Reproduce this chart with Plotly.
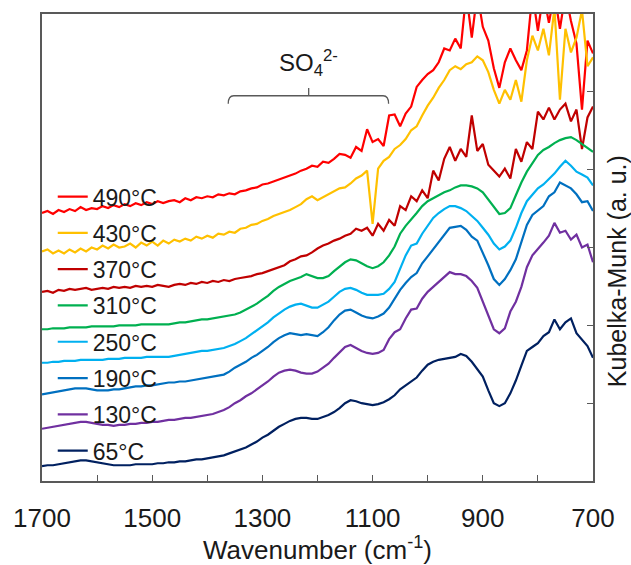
import plotly.graph_objects as go

# Wavenumber grid (cm^-1), 10 cm^-1 steps from 1700 down to 700
wavenumber = list(range(1700, 690, -10))

# Kubelka-Munk signal (arbitrary units, stacked spectra)
km_490 = [272, 274, 271, 275, 273, 276, 274, 278, 275, 277,
          276, 279, 277, 280, 278, 281, 279, 282, 280, 283,
          281, 284, 282, 284, 285, 283, 287, 285, 288, 287,
          289, 288, 291, 290, 292, 291, 294, 295, 297, 298,
          301, 302, 304, 306, 308, 310, 312, 315, 317, 320,
          319, 324, 323, 327, 332, 331, 328, 339, 335, 357,
          344, 347, 340, 371, 372, 360, 373, 380, 400, 407,
          413, 417, 425, 439, 437, 449, 439, 495, 450, 495,
          461, 447, 419, 399, 425, 439, 427, 417, 437, 495,
          457, 495, 465, 495, 459, 495, 467, 444, 377, 447,
          434]
km_430 = [233, 235, 231, 234, 231, 235, 232, 236, 233, 237,
          235, 239, 236, 240, 237, 238, 241, 237, 242, 239,
          243, 239, 244, 241, 245, 243, 246, 244, 248, 246,
          249, 247, 251, 250, 253, 252, 256, 257, 260, 261,
          264, 266, 269, 271, 273, 275, 278, 281, 286, 289,
          285, 288, 291, 294, 297, 298, 302, 307, 310, 315,
          261, 317, 325, 329, 337, 341, 347, 356, 360, 371,
          381, 389, 399, 407, 417, 421, 418, 423, 425, 431,
          427, 415, 397, 383, 397, 387, 407, 385, 427, 452,
          437, 459, 432, 480, 387, 459, 435, 450, 478, 421,
          430]
km_370 = [192, 193, 191, 194, 193, 195, 194, 195, 196, 194,
          195, 196, 195, 197, 196, 197, 196, 198, 197, 198,
          197, 199, 198, 197, 199, 200, 199, 201, 200, 202,
          201, 203, 202, 204, 203, 205, 206, 207, 208, 210,
          211, 213, 215, 217, 219, 223, 225, 228, 229, 232,
          236, 239, 241, 244, 246, 249, 251, 256, 254, 257,
          249, 261, 254, 265, 259, 279, 275, 289, 284, 295,
          287, 315, 305, 327, 339, 325, 337, 329, 371, 335,
          342, 321, 315, 309, 317, 307, 337, 324, 344, 337,
          375, 367, 379, 367, 377, 383, 365, 377, 337, 369,
          380]
km_310 = [154, 154, 155, 155, 155, 156, 156, 156, 156, 157,
          157, 157, 157, 157, 158, 158, 158, 158, 159, 159,
          159, 159, 159, 159, 160, 161, 161, 162, 163, 164,
          164, 165, 166, 167, 168, 169, 171, 174, 177, 180,
          184, 188, 193, 197, 200, 203, 205, 207, 210, 208,
          206, 206, 208, 213, 218, 222, 225, 224, 221, 218,
          216, 218, 222, 229, 238, 251, 259, 265, 272, 279,
          284, 287, 290, 293, 295, 298, 300, 300, 299, 297,
          293, 286, 279, 271, 272, 277, 290, 303, 314, 323,
          331, 336, 339, 343, 346, 348, 349, 346, 342, 338,
          334]
km_250 = [120, 120, 121, 121, 122, 122, 122, 123, 123, 123,
          123, 123, 124, 124, 124, 125, 125, 125, 125, 126,
          126, 126, 126, 126, 127, 128, 129, 130, 131, 132,
          132, 133, 134, 135, 137, 139, 142, 145, 149, 153,
          157, 161, 166, 170, 174, 177, 179, 180, 178, 176,
          176, 179, 182, 187, 192, 195, 196, 194, 191, 189,
          189, 189, 190, 195, 202, 215, 229, 239, 241, 251,
          259, 267, 272, 276, 279, 279, 277, 274, 269, 264,
          257, 250, 241, 235, 238, 244, 257, 272, 284, 291,
          297, 301, 306, 312, 319, 325, 320, 314, 311, 308,
          300]
km_190 = [88, 89, 90, 91, 92, 93, 94, 94, 94, 93,
          92, 92, 92, 93, 93, 94, 95, 96, 96, 97,
          97, 98, 99, 100, 100, 101, 101, 102, 103, 104,
          105, 106, 107, 108, 111, 115, 118, 121, 125, 128,
          132, 136, 141, 145, 148, 150, 149, 148, 149, 148,
          147, 151, 156, 163, 169, 173, 174, 171, 168, 166,
          165, 167, 170, 176, 185, 194, 201, 207, 211, 221,
          228, 235, 242, 249, 257, 258, 259, 255, 248, 244,
          232, 219, 205, 199, 205, 214, 225, 242, 260, 270,
          275, 279, 289, 293, 303, 300, 297, 291, 283, 284,
          274]
km_130 = [53, 54, 55, 56, 57, 58, 59, 60, 60, 59,
          58, 57, 57, 56, 57, 57, 58, 58, 59, 59,
          60, 60, 61, 62, 62, 63, 64, 64, 65, 66,
          67, 68, 70, 72, 75, 79, 82, 86, 89, 93,
          97, 101, 106, 110, 112, 113, 112, 110, 109, 109,
          111, 115, 119, 125, 131, 136, 138, 135, 132, 130,
          129, 130, 133, 144, 151, 154, 165, 174, 175, 185,
          192, 197, 202, 208, 212, 210, 210, 208, 203, 196,
          182, 167, 154, 150, 155, 172, 182, 197, 217, 229,
          235, 242, 249, 262, 252, 254, 245, 250, 237, 240,
          222]
km_65 = [15, 16, 16, 17, 18, 19, 20, 21, 21, 20,
         19, 18, 17, 16, 16, 16, 16, 17, 17, 17,
         17, 18, 18, 19, 19, 20, 20, 21, 22, 22,
         23, 24, 25, 26, 28, 30, 32, 34, 37, 40,
         44, 47, 51, 55, 58, 61, 63, 64, 64, 63,
         63, 65, 67, 70, 74, 79, 82, 81, 79, 78,
         77, 78, 80, 83, 87, 93, 97, 101, 105, 112,
         118, 121, 123, 124, 125, 126, 129, 127, 121, 114,
         106, 92, 79, 76, 79, 89, 102, 117, 132, 136,
         140, 147, 151, 164, 154, 161, 165, 150, 144, 137,
         125]

series_labels = ["490°C", "430°C", "370°C", "310°C", "250°C", "190°C", "130°C", "65°C"]
series_values = [km_490, km_430, km_370, km_310, km_250, km_190, km_130, km_65]
series_colors = ["#FF0000", "#FFC000", "#C00000", "#00B050", "#00B0F0", "#0070C0", "#7030A0", "#002060"]

x_major_ticks = [1700, 1500, 1300, 1100, 900, 700]
x_minor_ticks = [1600, 1400, 1200, 1000, 800]
y_tick_values = [79, 158, 237, 316, 395]
Y_RANGE = [0, 474]

SO4_BAND = (1362, 1071)   # bracket span (cm^-1)
SO4_CENTER = 1216

FONT = "Liberation Sans, Arial, Helvetica, sans-serif"
AXIS_COLOR = "#595959"
TEXT_COLOR = "#1a1a1a"

fig = go.Figure()
for label, vals, color in zip(series_labels, series_values, series_colors):
    fig.add_trace(go.Scatter(
        x=wavenumber, y=vals, mode="lines", name=label,
        legendgroup=label,
        line=dict(color=color, width=2.2),
    ))

# SO4 2- bracket
x1, x2 = SO4_BAND
yb, yt = 383, 391
fig.add_shape(type="path", xref="x", yref="y",
              path=f"M{x1},{yb} Q{x1},{yt} {x1-10},{yt} L{x2+10},{yt} Q{x2},{yt} {x2},{yb}",
              line=dict(color=AXIS_COLOR, width=1.3))
fig.add_shape(type="line", xref="x", yref="y", x0=SO4_CENTER, x1=SO4_CENTER, y0=yt, y1=yt + 8,
              line=dict(color=AXIS_COLOR, width=1.3))
fig.add_annotation(x=SO4_CENTER, y=424, xref="x", yref="y",
                   text="SO<sub>4</sub><sup>2-</sup>", showarrow=False,
                   font=dict(family=FONT, size=24, color=TEXT_COLOR))

# right-side y title
fig.add_annotation(x=1.0, xref="paper", xanchor="center", xshift=24, y=213, yref="y",
                   text="Kubelka-Munk (a. u.)", textangle=-90, showarrow=False,
                   font=dict(family=FONT, size=25, color=TEXT_COLOR))

tick_common = dict(ticks="inside", ticklen=6, tickwidth=1.3, tickcolor=AXIS_COLOR)

fig.update_layout(
    width=631, height=565, autosize=False,
    margin=dict(l=42, r=38, t=13, b=78),
    plot_bgcolor="white", paper_bgcolor="white",
    font=dict(family=FONT, size=26, color=TEXT_COLOR),
    showlegend=True,
    legend=dict(x=0.0195, y=0.655, xanchor="left", yanchor="top",
                bgcolor="rgba(0,0,0,0)", font=dict(family=FONT, size=23, color=TEXT_COLOR),
                tracegroupgap=3.4, traceorder="grouped", itemwidth=30),
    xaxis=dict(range=[1700, 700], tickmode="array", tickvals=x_major_ticks,
               ticktext=[str(v) for v in x_major_ticks],
               minor=dict(tickmode="array", tickvals=x_minor_ticks, **tick_common),
               showline=True, linecolor=AXIS_COLOR, linewidth=1.5, mirror=True,
               showgrid=False, zeroline=False, ticklabelstandoff=13,
               tickfont=dict(family=FONT, size=26, color=TEXT_COLOR),
               title=dict(text="Wavenumber (cm<sup>-1</sup>)", standoff=2,
                          font=dict(family=FONT, size=26, color=TEXT_COLOR)),
               **tick_common),
    yaxis=dict(range=Y_RANGE, side="right", tickmode="array", tickvals=y_tick_values,
               showticklabels=False,
               showline=True, linecolor=AXIS_COLOR, linewidth=1.5, mirror=True,
               showgrid=False, zeroline=False, **tick_common),
)

fig.write_html("out.html", config={"displayModeBar": False},
               post_script="document.body.style.margin='0';")
